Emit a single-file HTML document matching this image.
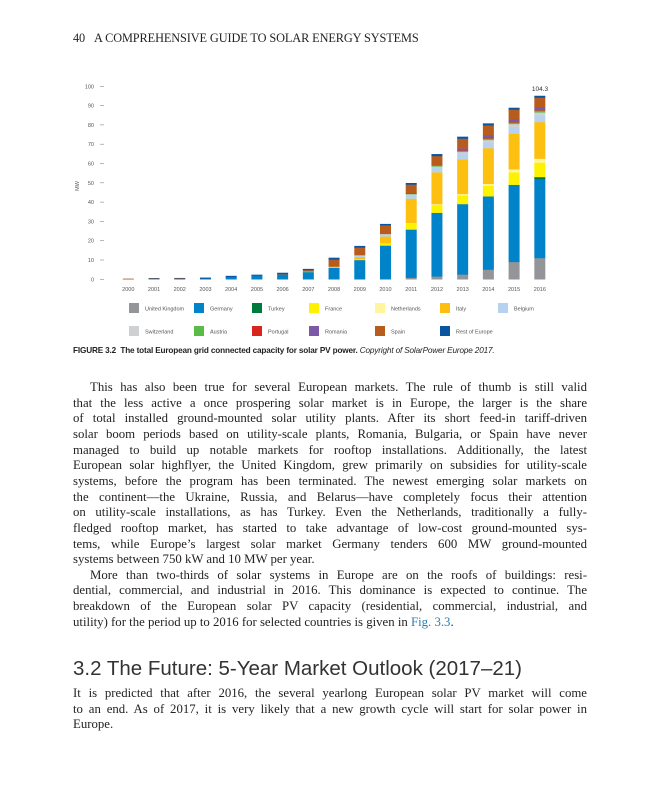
<!DOCTYPE html>
<html><head><meta charset="utf-8"><style>
body{margin:0;width:647px;height:800px;background:#fff;position:relative;overflow:hidden;font-family:"Liberation Serif",serif;color:#231f20}
.hdr{position:absolute;left:73px;top:31px;font-size:12.3px;letter-spacing:-0.1px;white-space:nowrap}
.cap{position:absolute;left:73px;top:346px;font-family:"Liberation Sans",sans-serif;font-size:8.2px;font-weight:bold;white-space:nowrap;letter-spacing:-0.15px}
.cap i{font-weight:normal}
.ln{position:absolute;left:73px;width:514px;font-size:12.8px;text-align:justify;text-align-last:justify;white-space:nowrap;height:16px;line-height:16px}
.ln.nj{text-align-last:left}
.ln.ind{text-indent:17px}
.h2{position:absolute;left:73px;top:657px;font-family:"Liberation Sans",sans-serif;font-size:20.5px;line-height:24px;color:#333;white-space:nowrap}
a{color:#2a7fb0;text-decoration:none}
</style></head><body>
<div class="hdr">40&nbsp;&nbsp;&nbsp;A COMPREHENSIVE GUIDE TO SOLAR ENERGY SYSTEMS</div>
<svg id="ch" width="647" height="345" style="position:absolute;left:0;top:0" font-family="Liberation Sans, sans-serif"></svg>
<div class="cap">FIGURE 3.2&nbsp; The total European grid connected capacity for solar PV power. <i>Copyright of SolarPower Europe 2017.</i></div>
<div id="body"></div>
<div class="h2">3.2 The Future: 5-Year Market Outlook (2017–21)</div>
<div class="ln" style="top:685px">It is predicted that after 2016, the several yearlong European solar PV market will come</div>
<div class="ln" style="top:700.5px">to an end. As of 2017, it is very likely that a new growth cycle will start for solar power in</div>
<div class="ln nj" style="top:716px">Europe.</div>
<script>
var L=[['ind','This has also been true for several European markets. The rule of thumb is still valid'],
['','that the less active a once prospering solar market is in Europe, the larger is the share'],
['','of total installed ground-mounted solar utility plants. After its short feed-in tariff-driven'],
['','solar boom periods based on utility-scale plants, Romania, Bulgaria, or Spain have never'],
['','managed to build up notable markets for rooftop installations. Additionally, the latest'],
['','European solar highflyer, the United Kingdom, grew primarily on subsidies for utility-scale'],
['','systems, before the program has been terminated. The newest emerging solar markets on'],
['','the continent—the Ukraine, Russia, and Belarus—have completely focus their attention'],
['','on utility-scale installations, as has Turkey. Even the Netherlands, traditionally a fully-'],
['','fledged rooftop market, has started to take advantage of low-cost ground-mounted sys-'],
['','tems, while Europe’s largest solar market Germany tenders 600 MW ground-mounted'],
['nj','systems between 750 kW and 10 MW per year.'],
['ind','More than two-thirds of solar systems in Europe are on the roofs of buildings: resi-'],
['','dential, commercial, and industrial in 2016. This dominance is expected to continue. The'],
['','breakdown of the European solar PV capacity (residential, commercial, industrial, and'],
['nj','utility) for the period up to 2016 for selected countries is given in <a>Fig. 3.3</a>.']];
var b='';for(var i=0;i<L.length;i++){b+='<div class="ln '+L[i][0]+'" style="top:'+(379+i*15.65)+'px">'+L[i][1]+'</div>';}
document.getElementById('body').innerHTML=b;
var C=['#939598','#0083c8','#007a3d','#fff200','#fff59d','#fdc010','#b7d2ee','#cfd0d2','#5bbb47','#d9261c','#7d58a6','#b85c1e','#0a55a0'];
var N=['United Kingdom','Germany','Turkey','France','Netherlands','Italy','Belgium','Switzerland','Austria','Portugal','Romania','Spain','Rest of Europe'];
var D=[
[0,0,0,0,0,0,0,0,0,0,0,.35,0],
[0,.1,0,0,0,0,0,0,0,0,0,.35,.2],
[0,.2,0,0,0,0,0,0,0,0,0,.3,.2],
[0,.4,0,0,0,0,0,0,0,0,0,0,.5],
[0,1,0,0,0,0,0,0,0,0,0,.2,.6],
[0,2,0,0,0,0,0,0,0,0,0,0,.4],
[0,2.6,0,0,0,0,0,0,0,0,0,.2,.6],
[0,3.8,0,.1,0,.2,0,0,0,0,0,.7,.6],
[0,6,0,.2,0,.4,0,0,0,0,0,3.7,.9],
[0,10,0,.4,0,1.2,.6,.3,0,0,0,4,.8],
[0,17.5,0,1.2,0,3.5,1,.3,0,0,0,4.5,.7],
[.8,25,0,3,.3,12.7,2,.3,.2,.3,0,4.5,.8],
[1.5,33,0,4,.5,16.5,2.5,.5,.4,0,0,5,1],
[2.5,36.5,0,4.5,.7,18,3,.8,.6,.3,1,5,1],
[5,38,0,5.5,1,18.5,3,1.2,.8,.5,1.3,5,1],
[9,40,0,6.5,1.5,18.5,3.5,1.5,.8,.3,1.3,5,1],
[11,41,1,7.5,2,19,3.5,1.5,1,.3,1.3,5,1]];
var s='',y0=279.3,k=1.93,x0=128.3,st=25.72;
for(var v=0;v<=100;v+=10){var y=y0-v*k;s+='<text x="94" y="'+(y+2)+'" font-size="5.5" fill="#555" text-anchor="end">'+v+'</text><line x1="100" x2="104" y1="'+y+'" y2="'+y+'" stroke="#888" stroke-width=".6"/>';}
s+='<text transform="translate(79,186) rotate(-90)" font-size="5.5" fill="#555" text-anchor="middle">MW</text>';
for(var i=0;i<17;i++){var cx=x0+i*st,acc=0;for(var j=0;j<13;j++){var h=D[i][j];if(!h)continue;s+='<rect x="'+(cx-5.5)+'" y="'+(y0-(acc+h)*k)+'" width="11" height="'+(h*k+0.2)+'" fill="'+C[j]+'"/>';acc+=h;}
s+='<text x="'+cx+'" y="291" font-size="5.5" fill="#555" text-anchor="middle">'+(2000+i)+'</text>';}
s+='<text x="540" y="91" font-size="6.5" fill="#333" text-anchor="middle">104.3</text>';
var lx=[129,194,252,309,375,440,498];
for(var j=0;j<13;j++){var r=j<7?0:1,c=j<7?j:j-7,x=lx[c],y=r?326:303;s+='<rect x="'+x+'" y="'+y+'" width="10" height="10" fill="'+C[j]+'"/><text x="'+(x+16)+'" y="'+(y+7.5)+'" font-size="5.5" fill="#555">'+N[j]+'</text>';}
document.getElementById('ch').innerHTML=s;
</script>
</body></html>
